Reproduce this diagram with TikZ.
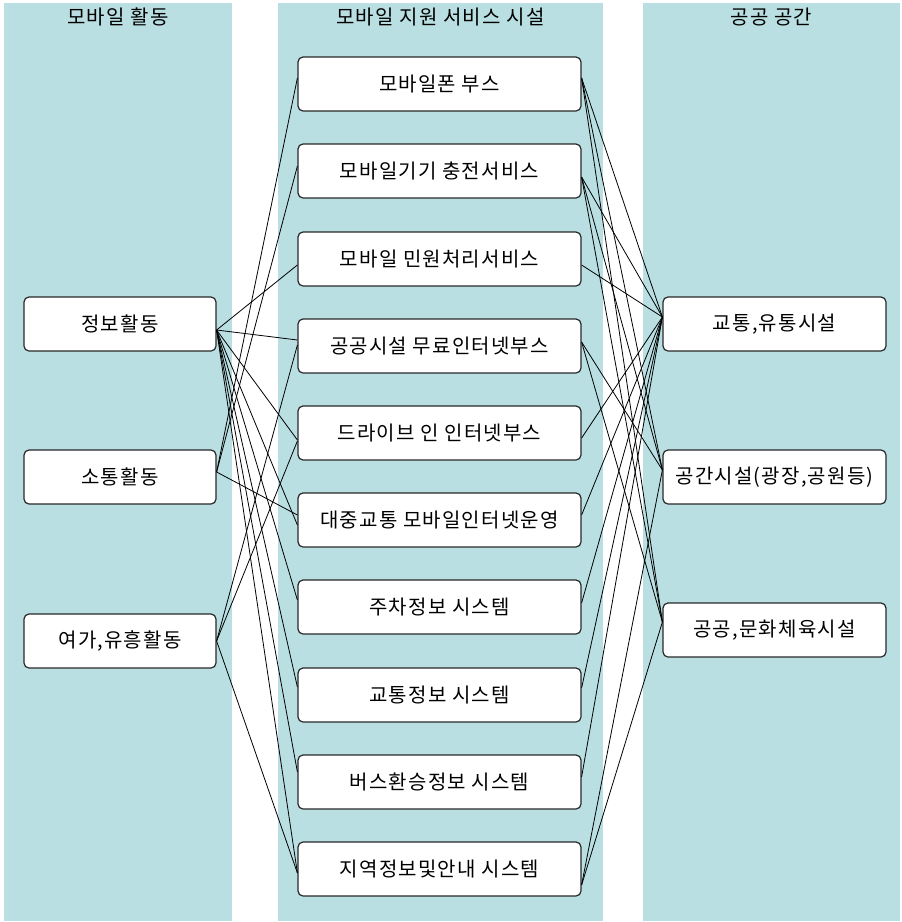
\documentclass[tikz,border=0pt]{standalone}
\usepackage{fontspec}
\setmainfont{Noto Sans CJK KR}[LetterSpace=6]
\definecolor{colbg}{RGB}{185,223,226}
\definecolor{boxline}{RGB}{40,40,40}
\begin{document}
\begin{tikzpicture}[x=1pt,y=1pt,
  txt/.style={font=\fontsize{20}{22}\selectfont},
  box/.style={txt, draw=boxline, line width=1.2pt, rounded corners=5pt, fill=white,
              minimum height=54pt, inner sep=0pt},
  lbox/.style={box, minimum width=192pt},
  mbox/.style={box, minimum width=283pt},
  rbox/.style={box, minimum width=223pt},
  colrect/.style={fill=colbg, draw=none},
  link/.style={draw=black, line width=0.8pt}]
\useasboundingbox (0,0) rectangle (902,-922);
\fill[white] (0,0) rectangle (902,-922);
% columns
\path[colrect] (4,-3) rectangle (232,-921);
\path[colrect] (278,-3) rectangle (603,-921);
\path[colrect] (643,-3) rectangle (900,-921);
\node[txt] (h1) at (118,-17) {모바일 활동};
\node[txt] (h2) at (440.5,-17) {모바일 지원 서비스 시설};
\node[txt] (h3) at (771.5,-17) {공공 공간};
% left
\node[lbox] (info) at (120,-324) {정보활동};
\node[lbox] (soc)  at (120,-477) {소통활동};
\node[lbox] (leis) at (120,-641) {여가,유흥활동};
% middle
\node[mbox] (m1)  at (439.5,-84)  {모바일폰 부스};
\node[mbox] (m2)  at (439.5,-171) {모바일기기 충전서비스};
\node[mbox] (m3)  at (439.5,-259) {모바일 민원처리서비스};
\node[mbox] (m4)  at (439.5,-346) {공공시설 무료인터넷부스};
\node[mbox] (m5)  at (439.5,-433) {드라이브 인 인터넷부스};
\node[mbox] (m6)  at (439.5,-520) {대중교통 모바일인터넷운영};
\node[mbox] (m7)  at (439.5,-607) {주차정보 시스템};
\node[mbox] (m8)  at (439.5,-695) {교통정보 시스템};
\node[mbox] (m9)  at (439.5,-782) {버스환승정보 시스템};
\node[mbox] (m10) at (439.5,-869) {지역정보및안내 시스템};
% right
\node[rbox] (r1) at (774.5,-324) {교통,유통시설};
\node[rbox] (r2) at (774.5,-477) {공간시설(광장,공원등)};
\node[rbox] (r3) at (774.5,-630) {공공,문화체육시설};
% left connectors
\draw[link] ([yshift=-6pt]info.east) -- ([yshift=-6pt]m3.west);
\draw[link] ([yshift=-6pt]info.east) -- ([yshift=6pt]m4.west);
\draw[link] ([yshift=-6pt]info.east) -- ([yshift=-7pt]m5.west);
\draw[link] ([yshift=-6pt]info.east) -- ([yshift=-5pt]m6.west);
\draw[link] ([yshift=-6pt]info.east) -- ([yshift=7pt]m7.west);
\draw[link] ([yshift=-6pt]info.east) -- ([yshift=8pt]m8.west);
\draw[link] ([yshift=-6pt]info.east) -- ([yshift=10pt]m9.west);
\draw[link] ([yshift=-6pt]info.east) -- ([yshift=-4pt]m10.west);
\draw[link] ([yshift=5pt]soc.east) -- ([yshift=6pt]m1.west);
\draw[link] ([yshift=5pt]soc.east) -- ([yshift=5pt]m2.west);
\draw[link] ([yshift=5pt]soc.east) -- ([yshift=5pt]m6.west);
\draw[link] (leis.east) -- ([yshift=1pt]m4.west);
\draw[link] (leis.east) -- ([yshift=-8pt]m5.west);
\draw[link] (leis.east) -- ([yshift=-4pt]m10.west);
% right connectors
\draw[link] ([yshift=6pt]m1.east) -- ([yshift=7pt]r1.west);
\draw[link] ([yshift=6pt]m1.east) -- ([yshift=7pt]r2.west);
\draw[link] ([yshift=6pt]m1.east) -- ([yshift=8pt]r3.west);
\draw[link] ([yshift=-6pt]m2.east) -- ([yshift=7pt]r1.west);
\draw[link] ([yshift=-6pt]m2.east) -- ([yshift=7pt]r2.west);
\draw[link] ([yshift=-6pt]m2.east) -- ([yshift=8pt]r3.west);
\draw[link] ([yshift=-6pt]m3.east) -- ([yshift=7pt]r1.west);
\draw[link] ([yshift=4pt]m4.east) -- ([yshift=7pt]r2.west);
\draw[link] ([yshift=4pt]m4.east) -- ([yshift=8pt]r3.west);
\draw[link] ([yshift=-5pt]m5.east) -- ([yshift=7pt]r1.west);
\draw[link] ([yshift=5pt]m6.east) -- ([yshift=7pt]r1.west);
\draw[link] ([yshift=4pt]m7.east) -- ([yshift=7pt]r1.west);
\draw[link] ([yshift=7pt]m8.east) -- ([yshift=7pt]r1.west);
\draw[link] ([yshift=5pt]m9.east) -- ([yshift=7pt]r1.west);
\draw[link] ([yshift=-16pt]m10.east) -- ([yshift=7pt]r2.west);
\draw[link] ([yshift=-16pt]m10.east) -- ([yshift=8pt]r3.west);
\end{tikzpicture}
\end{document}
